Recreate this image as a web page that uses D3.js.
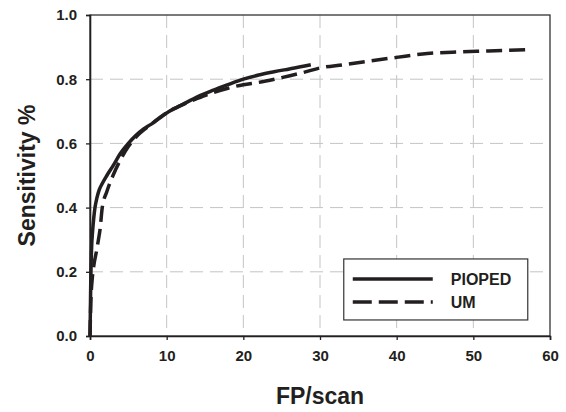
<!DOCTYPE html>
<html lang="en">
<head>
  <meta charset="utf-8"/>
  <title>Sensitivity vs FP/scan</title>
  <style>
    body { margin: 0; background: #fff; }
    svg text { font-family: "Liberation Sans", Arial, sans-serif; font-weight: bold; fill: #231f20; }
  </style>
</head>
<body>
<div id="chart"></div>

<script src="https://cdn.jsdelivr.net/npm/d3@7/dist/d3.min.js"></script>
<script>

  // values
  let piopedX = [0, 0.05, 0.1, 0.2, 0.35, 0.5, 0.65, 0.9, 1.2, 1.6, 2.2, 3, 4, 5, 6, 7, 8, 10, 12, 14, 16, 18, 20, 22, 24, 26, 28, 28.8];
  let piopedY = [0, 0.08, 0.17, 0.27, 0.33, 0.37, 0.40, 0.43, 0.455, 0.475, 0.5, 0.53, 0.57, 0.6, 0.625, 0.645, 0.66, 0.695, 0.72, 0.745, 0.765, 0.783, 0.8, 0.813, 0.823, 0.832, 0.841, 0.845];

  let umX = [0, 0.1, 0.3, 0.5, 0.87, 1.1, 1.3, 1.6, 2.2, 3.0, 4, 5, 6, 8, 10, 12, 14, 16, 18, 20, 22, 25, 28, 30, 33, 36, 40, 44, 48, 52, 57.5];
  let umY = [0, 0.1, 0.18, 0.22, 0.267, 0.3, 0.33, 0.4, 0.45, 0.5, 0.55, 0.59, 0.62, 0.66, 0.695, 0.72, 0.74, 0.758, 0.772, 0.783, 0.79, 0.805, 0.822, 0.835, 0.845, 0.855, 0.868, 0.88, 0.885, 0.888, 0.892];

  let xTicks = [0, 10, 20, 30, 40, 50, 60];
  let yTicks = [0, 0.2, 0.4, 0.6, 0.8, 1.0];
  let seriesNames = ['PIOPED', 'UM'];

  let width = 566, height = 412;
  let margin = {top: 15, right: 16, bottom: 76, left: 90};
  let innerW = width - margin.left - margin.right;
  let innerH = height - margin.top - margin.bottom;

  let svg = d3.select('#chart')
    .append('svg')
    .attr('width', width)
    .attr('height', height);

  let g = svg.append('g')
    .attr('transform', `translate(${margin.left},${margin.top})`);

  let x = d3.scaleLinear().domain([0, 60]).range([0, innerW]);
  let y = d3.scaleLinear().domain([0, 1]).range([innerH, 0]);

  // grid
  g.append('g')
    .selectAll('line')
    .data(xTicks.slice(1, -1))
    .join('line')
    .attr('x1', d => x(d)).attr('x2', d => x(d))
    .attr('y1', 0).attr('y2', innerH)
    .attr('stroke', '#c4c4c4')
    .attr('stroke-dasharray', '13,7');

  g.append('g')
    .selectAll('line')
    .data(yTicks.slice(1, -1))
    .join('line')
    .attr('x1', 0).attr('x2', innerW)
    .attr('y1', d => y(d)).attr('y2', d => y(d))
    .attr('stroke', '#c4c4c4')
    .attr('stroke-dasharray', '13,7');

  // frame
  g.append('rect')
    .attr('width', innerW)
    .attr('height', innerH)
    .attr('fill', 'none')
    .attr('stroke', '#333')
    .attr('stroke-width', 1.3);

  // axes
  let xAxis = g.append('g')
    .attr('transform', `translate(0,${innerH})`)
    .call(d3.axisBottom(x).tickValues(xTicks).tickSize(4).tickPadding(10).tickFormat(d3.format('d')));
  let yAxis = g.append('g')
    .call(d3.axisLeft(y).tickValues(yTicks).tickSize(4).tickPadding(9).tickFormat(d3.format('.1f')));

  [xAxis, yAxis].forEach(function (axis) {
    axis.select('.domain').attr('stroke', '#231f20').attr('stroke-width', 1.6);
    axis.selectAll('.tick line').attr('stroke', '#231f20').attr('stroke-width', 1.3);
    axis.selectAll('.tick text').style('font-size', '15px').attr('fill', '#231f20');
  });

  // series
  let line = d3.line()
    .x(d => x(d[0]))
    .y(d => y(d[1]))
    .curve(d3.curveMonotoneX);

  let series = [
    {name: seriesNames[0], points: d3.zip(piopedX, piopedY), dash: null},
    {name: seriesNames[1], points: d3.zip(umX, umY), dash: '16,7'}
  ];

  g.append('g')
    .selectAll('path')
    .data(series)
    .join('path')
    .attr('d', d => line(d.points))
    .attr('fill', 'none')
    .attr('stroke', '#231f20')
    .attr('stroke-width', 3.5)
    .attr('stroke-dasharray', d => d.dash);

  // legend
  let legend = g.append('g')
    .attr('transform', `translate(${x(33.1)},${y(0.24)})`);

  legend.append('rect')
    .attr('width', 184)
    .attr('height', 61)
    .attr('fill', '#fff')
    .attr('stroke', '#333')
    .attr('stroke-width', 1.2);

  let rows = legend.selectAll('.row')
    .data(series)
    .join('g')
    .attr('class', 'row')
    .attr('transform', (d, i) => `translate(0,${20 + i * 23})`);

  rows.append('line')
    .attr('x1', 9).attr('x2', 89)
    .attr('stroke', '#231f20')
    .attr('stroke-width', 3.5)
    .attr('stroke-dasharray', d => d.dash ? '19,7' : null);

  rows.append('text')
    .attr('x', 107)
    .attr('dy', '0.36em')
    .style('font-size', '16px')
    .text(d => d.name);

  // axis titles
  svg.append('text')
    .attr('x', margin.left + innerW / 2)
    .attr('y', 404)
    .attr('text-anchor', 'middle')
    .style('font-size', '23px')
    .text('FP/scan');

  svg.append('text')
    .attr('transform', `translate(35,${margin.top + innerH / 2}) rotate(-90)`)
    .attr('text-anchor', 'middle')
    .style('font-size', '23px')
    .text('Sensitivity %');

</script>
</body>
</html>
